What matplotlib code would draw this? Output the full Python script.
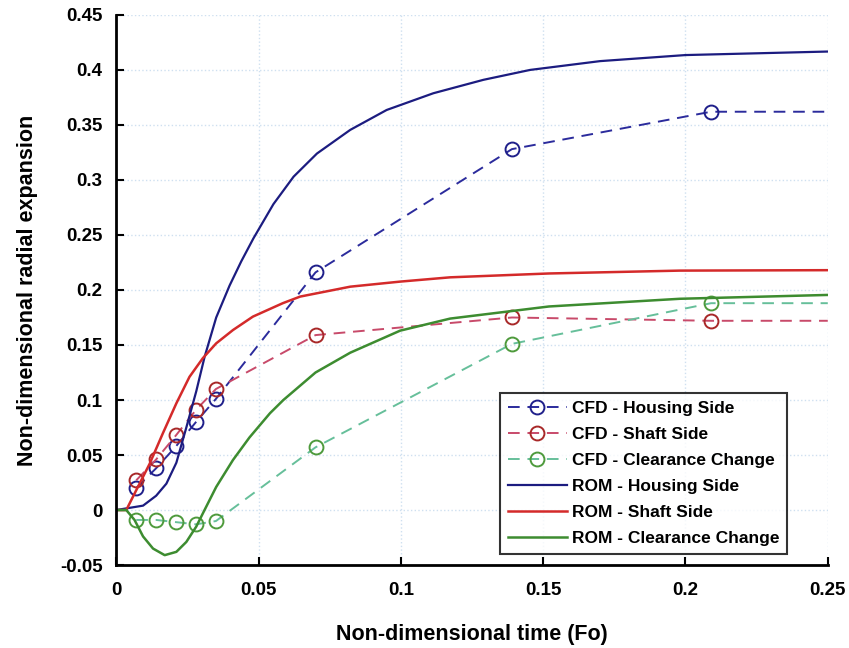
import numpy as np
import matplotlib.pyplot as plt

plt.rcParams['font.family'] = ['Liberation Sans', 'DejaVu Sans']

# CFD sample times (Fo); last entry only carries the dashed line to the edge
fo_cfd = [0.007, 0.014, 0.021, 0.028, 0.035, 0.07, 0.139, 0.209, 0.25]
cfd_housing = [0.020, 0.038, 0.058, 0.080, 0.101, 0.216, 0.328, 0.362, 0.362]
cfd_shaft = [0.027, 0.046, 0.068, 0.091, 0.110, 0.159, 0.175, 0.172, 0.172]
cfd_clear = [-0.009, -0.009, -0.011, -0.013, -0.010, 0.057, 0.151, 0.188, 0.188]

# ROM curves read along their length
fo_rom_h = [0.0, 0.0035, 0.0094, 0.014, 0.0176, 0.0211, 0.0246, 0.0281, 0.031,
            0.0351, 0.0398, 0.0439, 0.0482, 0.0552, 0.0623, 0.0705, 0.0822,
            0.095, 0.1114, 0.129, 0.1454, 0.17, 0.2, 0.25]
rom_housing = [0.0, 0.0015, 0.004, 0.013, 0.024, 0.043, 0.075, 0.108, 0.139,
               0.175, 0.204, 0.226, 0.247, 0.278, 0.303, 0.324, 0.3455,
               0.3636, 0.3788, 0.391, 0.400, 0.408, 0.4135, 0.4167]

fo_rom_s = [0.0, 0.0035, 0.007, 0.0117, 0.0164, 0.0211, 0.0257, 0.0304, 0.0351,
            0.041, 0.048, 0.0585, 0.0646, 0.0822, 0.0997, 0.1173, 0.152, 0.198, 0.25]
rom_shaft = [0.0, 0.0, 0.018, 0.042, 0.070, 0.097, 0.121, 0.138, 0.1515,
             0.1636, 0.1758, 0.188, 0.194, 0.203, 0.2076, 0.2115, 0.215, 0.2176, 0.218]

fo_rom_c = [0.0, 0.0035, 0.0064, 0.0094, 0.0129, 0.017, 0.0211, 0.0246, 0.0281,
            0.031, 0.0351, 0.041, 0.0468, 0.054, 0.0587, 0.07, 0.0822, 0.0997,
            0.1173, 0.152, 0.198, 0.25]
rom_clear = [0.0, 0.0, -0.009, -0.024, -0.035, -0.041, -0.038, -0.029, -0.015,
             0.0, 0.021, 0.0455, 0.066, 0.088, 0.100, 0.125, 0.143, 0.163,
             0.174, 0.185, 0.192, 0.1955]

fig = plt.figure(figsize=(8.49, 6.48), dpi=100)
ax = fig.add_axes([0.137, 0.128, 0.838, 0.849])

mk = dict(marker='o', markersize=10, markerfacecolor='none', markeredgewidth=1.4,
          markevery=list(range(8)), linewidth=1.4, dashes=(6, 4))
ax.plot(fo_cfd, cfd_housing, color='#2b2b9c', markeredgecolor='#1f1f8a',
        label='CFD - Housing Side', **mk)
ax.plot(fo_cfd, cfd_shaft, color='#c84a6a', markeredgecolor='#a82828',
        label='CFD - Shaft Side', **mk)
ax.plot(fo_cfd, cfd_clear, color='#66bf9a', markeredgecolor='#4e9a3c',
        label='CFD - Clearance Change', **mk)

ax.plot(fo_rom_h, rom_housing, color='#1c1c80', lw=1.6, label='ROM - Housing Side')
ax.plot(fo_rom_s, rom_shaft, color='#d42a2a', lw=1.8, label='ROM - Shaft Side')
ax.plot(fo_rom_c, rom_clear, color='#3d8c30', lw=1.8, label='ROM - Clearance Change')

ax.set_xlim(0, 0.25)
ax.set_ylim(-0.05, 0.45)
ax.set_xticks([0, 0.05, 0.1, 0.15, 0.2, 0.25])
ax.set_xticklabels(['0', '0.05', '0.1', '0.15', '0.2', '0.25'])
ax.set_yticks(np.arange(-0.05, 0.451, 0.05))
ax.set_yticklabels(['-0.05', '0', '0.05', '0.1', '0.15', '0.2', '0.25',
                    '0.3', '0.35', '0.4', '0.45'])
ax.tick_params(direction='in', length=6, width=1.5, labelsize=13.5)
ax.tick_params(axis='x', pad=12)
ax.tick_params(axis='y', pad=10)
for t in ax.get_xticklabels() + ax.get_yticklabels():
    t.set_fontweight('bold')

ax.grid(True, color='#cfe0f0', linestyle=':', linewidth=1.0)
ax.spines['top'].set_visible(False)
ax.spines['right'].set_visible(False)
ax.spines['left'].set_linewidth(2)
ax.spines['bottom'].set_linewidth(2)

ax.set_xlabel('Non-dimensional time (Fo)', fontsize=15.5, fontweight='bold', labelpad=18)
ax.set_ylabel('Non-dimensional radial expansion', fontsize=15.5, fontweight='bold', labelpad=16)

leg = ax.legend(loc='lower right', bbox_to_anchor=(0.955, 0.005),
                prop={'weight': 'bold', 'size': 12.5}, frameon=True, fancybox=False,
                edgecolor='black', handlelength=3.4, borderpad=0.45,
                labelspacing=0.62, handletextpad=0.3)
leg.get_frame().set_linewidth(1.5)

fig.savefig('out.png', dpi=100)
